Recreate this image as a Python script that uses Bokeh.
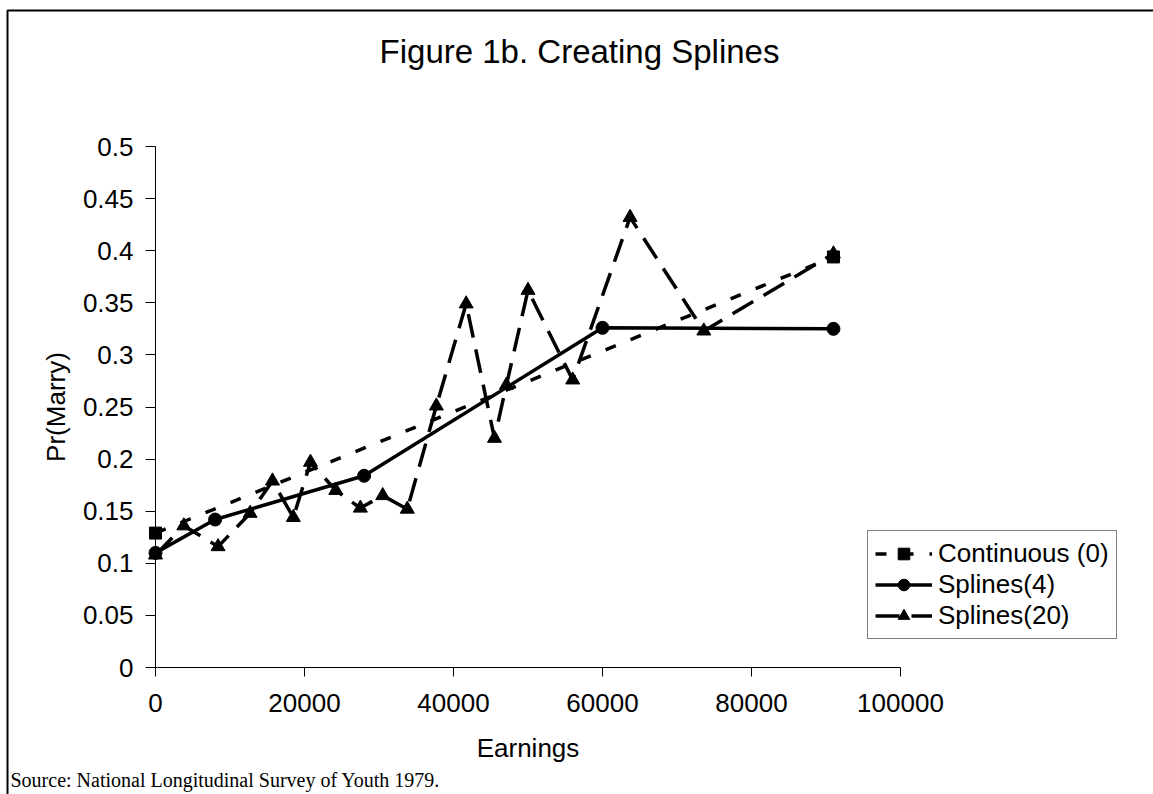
import math

from bokeh.plotting import figure
from bokeh.models import (Range1d, FixedTicker, Legend, LegendItem, Label,
                          PolyAnnotation)
from bokeh.embed import file_html
from bokeh.resources import INLINE

# ---- data -------------------------------------------------------------
cont_x = [0, 91000]
cont_y = [0.129, 0.394]

spl4_x = [0, 8000, 28000, 60000, 91000]
spl4_y = [0.110, 0.142, 0.184, 0.326, 0.325]

spl20_x = [0, 3800, 8400, 12700, 15700, 18500, 20800, 24200, 27500, 30500,
           33800, 37700, 41700, 45500, 47100, 50000, 56000, 63700, 73600, 91000]
spl20_y = [0.108, 0.136, 0.116, 0.148, 0.179, 0.144, 0.197, 0.170, 0.153, 0.165,
           0.152, 0.251, 0.349, 0.220, 0.271, 0.362, 0.276, 0.432, 0.323, 0.397]

x_ticks = [0, 20000, 40000, 60000, 80000, 100000]
x_tick_labels = ["0", "20000", "40000", "60000", "80000", "100000"]
y_ticks = [0, 0.05, 0.1, 0.15, 0.2, 0.25, 0.3, 0.35, 0.4, 0.45, 0.5]
y_tick_labels = ["0", "0.05", "0.1", "0.15", "0.2", "0.25", "0.3", "0.35",
                 "0.4", "0.45", "0.5"]

TITLE = "Figure 1b. Creating Splines"
X_TITLE = "Earnings"
Y_TITLE = "Pr(Marry)"
SOURCE = "Source: National Longitudinal Survey of Youth 1979."

# ---- page geometry ------------------------------------------------------
# The frame fills the whole canvas; the data area sits inside it and the
# axes are pinned to the data origin.
W, H = 1153, 794
DL, DR, DT, DB = 155, 900, 146, 667          # data area edges (px)
X0, X1, Y0, Y1 = 0, 100000, 0, 0.5

SANS = "Liberation Sans"
SERIF = "Liberation Serif"


def px_x(px):
    return X0 + (px - DL) / (DR - DL) * (X1 - X0)


def px_y(py):
    return Y0 + (DB - py) / (DB - DT) * (Y1 - Y0)


p = figure(width=W, height=H, output_backend="svg", toolbar_location=None,
           x_range=Range1d(px_x(0), px_x(W)), y_range=Range1d(px_y(H), px_y(0)),
           min_border=0)
p.outline_line_color = None
p.grid.visible = False
p.background_fill_color = "white"
p.border_fill_color = "white"

for ax in (p.xaxis[0], p.yaxis[0]):
    ax.fixed_location = 0
    ax.axis_line_color = "black"
    ax.axis_line_width = 1
    ax.major_tick_line_color = "black"
    ax.major_tick_in = 0
    ax.minor_tick_line_color = None
    ax.major_label_text_font = SANS
    ax.major_label_text_font_size = "26px"
    ax.major_label_text_color = "black"

p.xaxis.bounds = (X0, X1)
p.xaxis.ticker = FixedTicker(ticks=x_ticks)
p.xaxis.major_label_overrides = dict(zip(x_ticks, x_tick_labels))
p.xaxis.major_tick_out = 9
p.xaxis.major_label_standoff = 17

p.yaxis.bounds = (Y0, Y1)
p.yaxis.ticker = FixedTicker(ticks=y_ticks)
p.yaxis.major_label_overrides = dict(zip(y_ticks, y_tick_labels))
p.yaxis.major_tick_out = 10
p.yaxis.major_label_standoff = 12

# ---- series -------------------------------------------------------------
c_line = p.line(cont_x, cont_y, line_color="black", line_width=3.5,
                line_dash="11 16")
c_mark = p.scatter(cont_x, cont_y, marker="square", size=12,
                   fill_color="black", line_color="black")

s4_line = p.line(spl4_x, spl4_y, line_color="black", line_width=3.5)
s4_mark = p.scatter(spl4_x, spl4_y, marker="circle", size=13,
                    fill_color="black", line_color="black")

s20_line = p.line(spl20_x, spl20_y, line_color="black", line_width=3.5,
                  line_dash="24 12")
s20_mark = p.scatter(spl20_x, spl20_y, marker="triangle", size=14,
                     fill_color="black", line_color="black")

legend = Legend(items=[
    LegendItem(label="Continuous (0)", renderers=[c_line, c_mark]),
    LegendItem(label="Splines(4)", renderers=[s4_line, s4_mark]),
    LegendItem(label="Splines(20)", renderers=[s20_line, s20_mark]),
], location=(867, H - 639))
legend.border_line_color = "black"
legend.border_line_width = 1
legend.background_fill_color = "white"
legend.background_fill_alpha = 1
legend.label_text_font = SANS
legend.label_text_font_size = "26px"
legend.label_text_color = "black"
legend.glyph_width = 57
legend.glyph_height = 29
legend.label_height = 29
legend.label_standoff = 6
legend.spacing = -2
legend.padding = 7
legend.margin = 0
p.add_layout(legend, "center")

# ---- titles, source note and chart border --------------------------------
p.add_layout(Label(x=px_x(579), y=px_y(51), text=TITLE,
                   text_font=SANS, text_font_size="33px",
                   text_align="center", text_baseline="middle",
                   text_color="black"))
p.add_layout(Label(x=px_x((DL + DR) / 2), y=px_y(747), text=X_TITLE,
                   text_font=SANS, text_font_size="26px",
                   text_align="center", text_baseline="middle",
                   text_color="black"))
p.add_layout(Label(x=px_x(55), y=px_y((DT + DB) / 2), text=Y_TITLE,
                   angle=math.pi / 2,
                   text_font=SANS, text_font_size="26px",
                   text_align="center", text_baseline="middle",
                   text_color="black"))
p.add_layout(Label(x=px_x(10), y=px_y(779), text=SOURCE,
                   text_font=SERIF, text_font_size="20px",
                   text_align="left", text_baseline="alphabetic",
                   text_color="black"))
p.add_layout(PolyAnnotation(xs=[px_x(7), px_x(1300), px_x(1300), px_x(7)],
                            ys=[px_y(10), px_y(10), px_y(900), px_y(900)],
                            fill_alpha=0, line_color="black", line_alpha=1,
                            line_width=2))

open("out.html", "w").write(file_html(p, INLINE))
